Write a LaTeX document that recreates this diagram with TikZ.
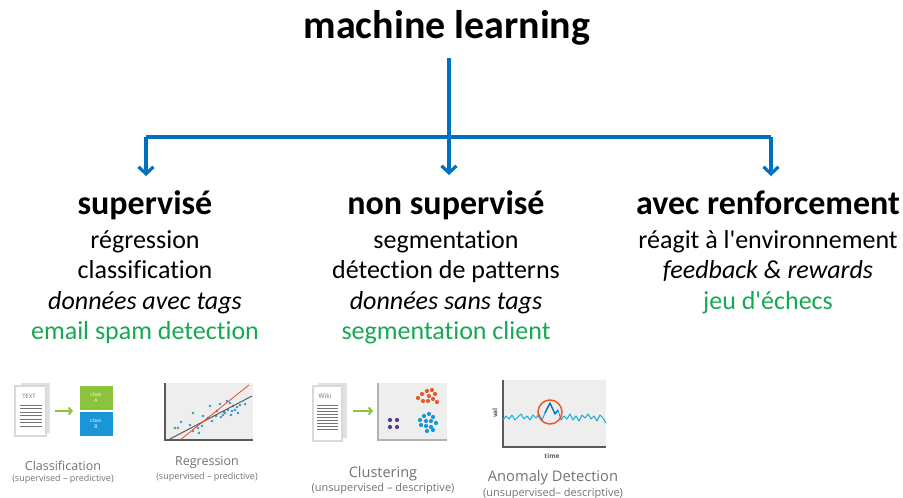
\documentclass[tikz,border=0pt]{standalone}
\usepackage{fontspec}
\setmainfont{Carlito}[Ligatures={NoCommon}]
\newfontfamily\iconfont{Open Sans}
\usepackage{xcolor}
\usepackage{tikz}
\usetikzlibrary{arrows.meta, positioning, calc}
\definecolor{mlblue}{RGB}{0,112,192}
\definecolor{mlgreen}{RGB}{22,168,82}
\definecolor{icgray}{RGB}{115,115,115}
\definecolor{icpanel}{RGB}{238,238,238}
\definecolor{icaxis}{RGB}{90,90,90}
\definecolor{iclime}{RGB}{140,195,60}
\definecolor{icsky}{RGB}{25,150,215}
\definecolor{icdot}{RGB}{45,150,205}
\definecolor{icorange}{RGB}{232,90,40}
\definecolor{icpurple}{RGB}{95,55,140}

\begin{document}
\begin{tikzpicture}[x=1pt,y=-1pt,
  head/.style={font=\fontsize{34}{36}\selectfont\bfseries,anchor=base},
  item/.style={font=\fontsize{26}{28}\selectfont,anchor=base},
  link/.style={draw=mlblue,line width=3.2pt,-{Straight Barb[length=7pt,width=15pt]}},
  caption/.style={font=\iconfont\fontsize{12.5}{14}\selectfont,text=icgray,inner sep=0pt},
  subcaption/.style={font=\iconfont\fontsize{9}{10}\selectfont,text=icgray,inner sep=0pt},
  page/.style={fill=white,draw=black!15,line width=1.5pt},
  dot/.style={circle,fill=#1,inner sep=0pt,minimum size=4.2pt}]
\useasboundingbox (0,0) rectangle (903,498);

% titles
\node[font=\fontsize{40}{42}\selectfont\bfseries,anchor=base] (ml) at (447,38) {machine learning};
\node[head] (sup) at (145,214) {supervisé};
\node[head] (nonsup) at (446,214) {non supervisé};
\node[head] (renf) at (768,214) {avec renforcement};

% items under each heading
\node[item] (s1) at (145,248) {régression};
\node[item] (s2) at (145,278) {classification};
\node[item] (s3) at (145,309) {\itshape données avec tags};
\node[item,text=mlgreen] (s4) at (145,339) {email spam detection};

\node[item] (n1) at (446,248) {segmentation};
\node[item] (n2) at (446,278) {détection de patterns};
\node[item] (n3) at (446,309) {\itshape données sans tags};
\node[item,text=mlgreen] (n4) at (446,339) {segmentation client};

\node[item] (r1) at (768,248) {réagit à l\textquotesingle environnement};
\node[item] (r2) at (768,278) {\itshape feedback \& rewards};
\node[item,text=mlgreen] (r3) at (768,309) {jeu d\textquotesingle échecs};

% arrows
\coordinate (barL) at (146,137);
\coordinate (barR) at (771,137);
\draw[mlblue,line width=3.2pt] (barL) -- (barR);
\draw[link] (449,58) -- (449,175);
\draw[link,shorten >=-1pt] (barL) -- (146,175);
\draw[link,shorten >=-1pt] (barR) -- (771,175);

% classification icon
\fill[black!12] (21,383) rectangle (50,433);
\draw[page] (15,386) rectangle (46,436);
\node[font=\iconfont\fontsize{6}{6}\selectfont,text=icgray] (txt) at (29,396) {TEXT};
\foreach \y in {405,408.5,...,426}
  \draw[icgray,line width=0.9pt] (20,\y) -- (42,\y);
\draw[iclime,line width=2pt,-{Straight Barb[length=3pt,width=7pt]}] (55,411) -- (73,411);
\node[fill=iclime,minimum width=33pt,minimum height=24pt,inner sep=0pt,text=white,
  font=\iconfont\fontsize{5}{6}\selectfont,align=center] (ca) at (96,398) {class\\A};
\node[fill=icsky,minimum width=33pt,minimum height=24pt,inner sep=0pt,text=white,
  font=\iconfont\fontsize{5}{6}\selectfont,align=center] (cb) at (96,424) {class\\B};
\node[caption] (cl) at (63,466) {Classification};
\node[subcaption] (cls) at (63,479) {(supervised – predictive)};

% regression icon
\fill[icpanel] (165,383) rectangle (253,440);
\draw[icaxis,line width=1.2pt] (165,383) -- (165,440) -- (253,440);
\foreach \p in {(175,428),(178,428),(181,422),(190,425),(193,413),(193,431),(198,428),
  (199,433),(202,426),(203,416),(208,418),(210,406),(212,421),(216,416),(217,411),
  (220,404),(221,417),(223,415),(225,413),(227,401),(228,410),(230,403),(232,411),
  (233,406),(235,410),(237,407),(238,413),(240,405),(231,415),(245,404),(224,412)}
  \node[dot=icdot,minimum size=2.8pt] at \p {};
\draw[icaxis,line width=1pt] (168,440) -- (252,396);
\draw[icorange!80!red,line width=0.8pt] (180,440) -- (249,385);
\node[caption] (rg) at (207,462) {Regression};
\node[subcaption] (rgs) at (207,477) {(supervised – predictive)};

% clustering icon
\fill[black!12] (318,383) rectangle (347,438);
\draw[page] (313,386) rectangle (342,441);
\node[font=\iconfont\fontsize{6.5}{7}\selectfont,text=icgray] (wiki) at (325,396) {Wiki};
\foreach \y in {405,408,...,429}
  \draw[icgray,line width=0.9pt] (317,\y) -- (338,\y);
\draw[iclime,line width=2pt,-{Straight Barb[length=3pt,width=7pt]}] (353,411) -- (373,411);
\fill[icpanel] (378,383) rectangle (447,440);
\draw[black!30,line width=1.2pt] (378,383) -- (378,440) -- (447,440);
\foreach \p in {(390,420),(397,420),(390,427),(397,427)}
  \node[dot=icpurple] at \p {};
\foreach \p in {(418,398),(422,394),(427,391),(432,390),(435,394),(429,396),(423,401),
  (428,401),(433,399),(437,402)}
  \node[dot=icorange] at \p {};
\foreach \p in {(420,420),(424,416),(429,414),(433,417),(426,421),(431,421),(436,423),
  (421,425),(426,426),(431,427),(427,431),(433,430)}
  \node[dot=icsky] at \p {};
\node[caption,font=\iconfont\fontsize{14.5}{16}\selectfont] (cs) at (383,474) {Clustering};
\node[subcaption,font=\iconfont\fontsize{11}{12}\selectfont] (css) at (383,489) {(unsupervised – descriptive)};

% anomaly detection icon
\fill[icpanel] (503,380) rectangle (606,447);
\draw[icaxis,line width=1.2pt] (503,380) -- (503,447) -- (606,447);
\node[font=\iconfont\fontsize{6.5}{7}\selectfont\bfseries,text=icaxis,rotate=90] (val) at (495,413) {val};
\node[font=\iconfont\fontsize{6.5}{7}\selectfont\bfseries,text=icaxis] (time) at (552,456) {time};
\draw[icsky!80!cyan,line width=1pt,line join=round] plot coordinates {
  (503,420) (506,416) (509,419) (512,415) (515,420) (518,417) (521,414) (524,419)
  (527,416) (530,420) (533,415) (536,418) (539,414) (542,420) (545,413)};
\draw[mlblue,line width=1.4pt,line join=round] (545,413) -- (550,403) -- (555,414) -- (558,410);
\draw[icsky!80!cyan,line width=1pt,line join=round] plot coordinates {
  (558,410) (561,420) (564,416) (567,419) (570,414) (573,420) (576,416) (579,421)
  (582,415) (585,418) (588,414) (591,419) (594,416) (597,421) (600,415) (603,418) (606,423)};
\draw[icorange,line width=1.5pt] (550,412) circle (12);
\node[caption,font=\iconfont\fontsize{14.7}{16}\selectfont] (an) at (553,478) {Anomaly Detection};
\node[subcaption,font=\iconfont\fontsize{11}{12}\selectfont] (ans) at (553,494) {(unsupervised– descriptive)};
\end{tikzpicture}
\end{document}
